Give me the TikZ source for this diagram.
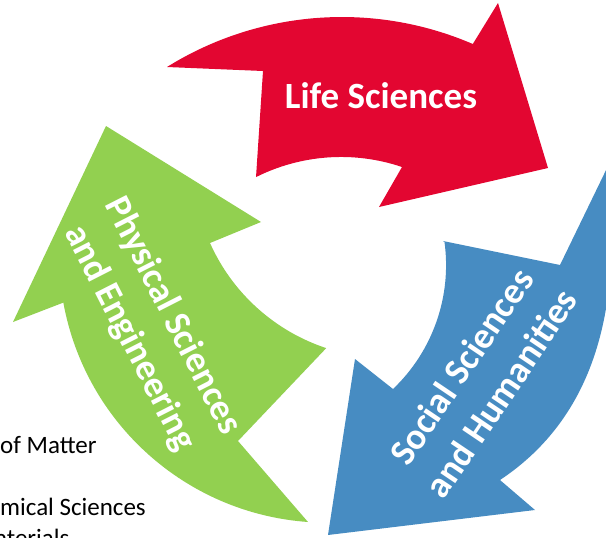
\documentclass[tikz,border=0pt]{standalone}
\usepackage{fontspec}
\setmainfont{Carlito}
\usepackage{tikz}

\definecolor{lifered}{RGB}{227,6,49}
\definecolor{physgreen}{RGB}{146,208,80}
\definecolor{socblue}{RGB}{71,140,194}

\begin{document}
\begin{tikzpicture}[x=1pt,y=-1pt,
    areatext/.style={text=white,font=\bfseries\fontsize{37}{48}\selectfont,align=center,inner sep=0pt},
    cuttext/.style={text=black,font=\fontsize{25}{31}\selectfont,anchor=base west,inner sep=0pt}]
            \clip (0,0) rectangle (606,538);
            \def\lifearrow{(167,67) arc[start angle=-121.9,end angle=-66.7,radius=331] -- (498,3) -- (548,168) -- (379,207) -- (402,167) arc[start angle=-71.3,end angle=-116.6,radius=190] -- (263,71) -- cycle}
            \def\socialarrow{(443,241) -- (560,265) -- (608,166) .. controls (618,266) and (616,403) .. (500,480) -- (535,510) -- (328,535) -- (355,359) -- (393,389) arc[start angle=46.4,end angle=-7.75,radius=171] -- cycle}
            \def\physicalarrow{(106,126) -- (261,222) -- (210,243) arc[start angle=155.95,end angle=108.3,radius=194] -- (238,441) -- (308,522) arc[start angle=94.07,end angle=169.7,radius=268] -- (13,322) -- cycle}
            \fill[lifered] \lifearrow;
            \fill[socblue] \socialarrow;
            \fill[physgreen] \physicalarrow;
            \node[areatext,anchor=base] (life) at (381,108) {Life Sciences};
            \node[areatext,rotate=-63] (physical) at (151,327) {Physical Sciences\\and Engineering};
            \node[areatext,rotate=56] (social) at (481,380) {Social Sciences\\and Humanities};
            \node[cuttext] (matter) at (0,453) {of Matter};
            \node[cuttext] (chemical) at (0,515) {mical Sciences};
            \node[cuttext] (materials) at (-5,546) {aterials};
        \end{tikzpicture}
\end{document}
